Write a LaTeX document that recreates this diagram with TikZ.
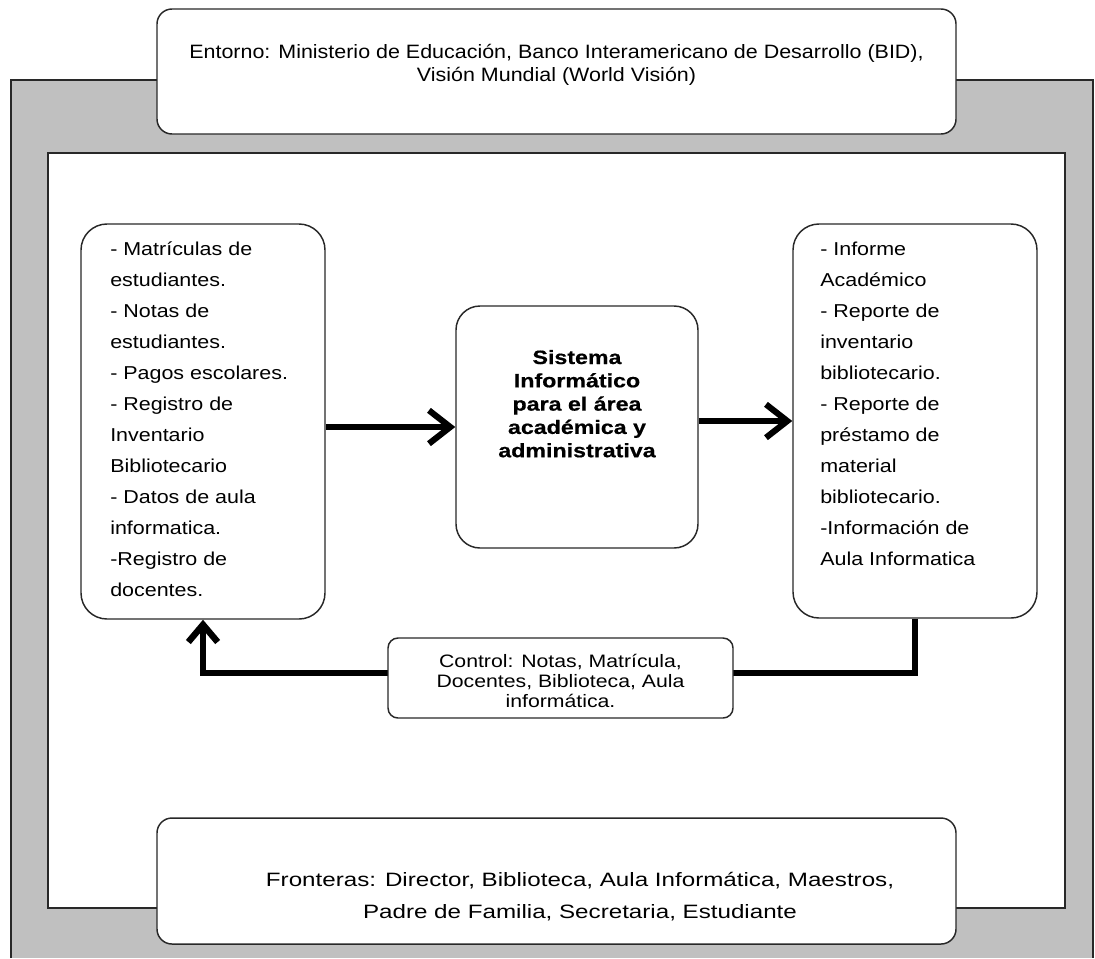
\documentclass[tikz,border=0pt]{standalone}
\usepackage{fontspec}
\setmainfont{Liberation Sans}
\usetikzlibrary{arrows.meta}
% widened sans faces for the various labels
\newfontfamily\fEnv[FakeStretch=1.11]{Liberation Sans}
\newfontfamily\fList[FakeStretch=1.15]{Liberation Sans}
\newfontfamily\fCore[FakeStretch=1.2,FakeBold=0.6]{Liberation Sans Bold}
\newfontfamily\fCtl[FakeStretch=1.18]{Liberation Sans}
\newfontfamily\fBnd[FakeStretch=1.25]{Liberation Sans}
\definecolor{band}{RGB}{192,192,192}
\definecolor{edge}{RGB}{40,40,40}
\begin{document}
\begin{tikzpicture}[x=0.75pt,y=-0.75pt,
  box/.style={draw=edge, line width=1.1pt, fill=white, inner sep=0pt, rounded corners=#1},
  frame/.style={draw=edge, line width=1pt},
  flow/.style={line width=4.6pt, line join=miter, -{Straight Barb[length=16pt,width=25pt]}},
  feed/.style={line width=4.8pt, line join=miter, -{Straight Barb[length=13pt,width=22pt]}},
  envtxt/.style={anchor=base, inner sep=0pt, font=\fEnv\fontsize{14.5}{17}\selectfont},
  listtxt/.style={anchor=base west, inner sep=0pt, font=\fList\fontsize{14}{17}\selectfont},
  coretxt/.style={anchor=base, inner sep=0pt, font=\fCore\fontsize{14.5}{17}\selectfont},
  ctltxt/.style={anchor=base, inner sep=0pt, font=\fCtl\fontsize{13.5}{16}\selectfont},
  bndtxt/.style={anchor=base, inner sep=0pt, font=\fBnd\fontsize{14.5}{17}\selectfont}]
\useasboundingbox (0,0) rectangle (1095,958);

% surrounding environment band and the system area inside it
\fill[band] (11,80) rectangle (1093,958);
\draw[frame] (11,958) -- (11,80) -- (1093,80) -- (1093,958);
\draw[frame, fill=white] (48,153) rectangle (1065,908);

% environment box
\node[box=11.25pt, minimum width=599.25pt, minimum height=93.75pt] (env) at (556.5,71.5) {};
\node[envtxt] (env1) at (556.5,58) {Entorno: Ministerio de Educación, Banco Interamericano de Desarrollo (BID),};
\node[envtxt] (env2) at (556.5,81) {Visión Mundial (World Visión)};

% inputs
\node[box=19.5pt, minimum width=183pt, minimum height=296.25pt] (inL) at (203,421.5) {};
\foreach \t [count=\i from 0] in {- Matrículas de, estudiantes., - Notas de, estudiantes.,
  - Pagos escolares., - Registro de, Inventario, Bibliotecario, - Datos de aula,
  informatica., -Registro de, docentes.}
  \node[listtxt] (inL\i) at (110,255+31*\i) {\t};

% process
\node[box=18pt, minimum width=181.5pt, minimum height=181.5pt] (core) at (577,427) {};
\foreach \t [count=\i from 0] in {Sistema, Informático, para el área, académica y, administrativa}
  \node[coretxt] (core\i) at (577,364+23.3*\i) {\t};

% outputs
\node[box=19.5pt, minimum width=183pt, minimum height=295.5pt] (outR) at (915,421) {};
\foreach \t [count=\i from 0] in {- Informe, Académico, - Reporte de, inventario,
  bibliotecario., - Reporte de, préstamo de, material, bibliotecario.,
  -Información de, Aula Informatica}
  \node[listtxt] (outR\i) at (820,255+31*\i) {\t};

% flows
\draw[flow] (inL.east |- core) -- (core.west);
\draw[flow] (core.east |- outR) -- (outR.west);
\draw[feed] (outR.south) -- (outR.south |- 0,673) -- (inL.south |- 0,673) -- (inL.south);

% control
\node[box=7.5pt, minimum width=258.75pt, minimum height=60pt] (ctl) at (560.5,678) {};
\node[ctltxt] (ctl1) at (560.5,667) {Control: Notas, Matrícula,};
\node[ctltxt] (ctl2) at (560.5,687) {Docentes, Biblioteca, Aula};
\node[ctltxt] (ctl3) at (560.5,707) {informática.};

% boundaries
\node[box=11.25pt, minimum width=599.25pt, minimum height=94.5pt] (bnd) at (556.5,881) {};
\node[bndtxt] (bnd1) at (580,886) {Fronteras: Director, Biblioteca, Aula Informática, Maestros,};
\node[bndtxt] (bnd2) at (580,918) {Padre de Familia, Secretaria, Estudiante};
\end{tikzpicture}
\end{document}
